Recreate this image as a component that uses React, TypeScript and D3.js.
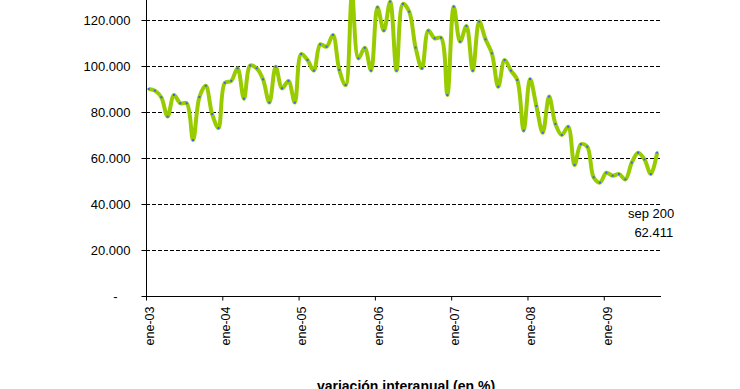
import React, { useEffect, useRef } from 'react';
import * as d3 from 'd3';

// monthly values, ene-03 .. sep-09
const values2003 = [90000, 89300, 86400, 78000, 87400, 83800, 83800, 67800, 86500, 91400, 79100, 73000];
const values2004 = [92700, 93500, 99000, 85800, 100200, 99000, 94200, 84100, 99700, 90300, 93500, 84100];
const values2005 = [105200, 102600, 98000, 109400, 108400, 113500, 98300, 91700, 131000, 103300, 107900, 98000];
const values2006 = [125500, 115400, 128000, 98000, 127000, 123600, 108000, 99000, 115400, 112000, 112300, 87400];
const values2007 = [125800, 110600, 117400, 98000, 119300, 111600, 105500, 91000, 102600, 98000, 93900, 71900];
const values2008 = [94300, 82600, 71000, 86700, 74800, 70000, 73600, 57000, 66000, 64900, 51600, 49300];
const values2009 = [53600, 52300, 53000, 50700, 58000, 62300, 59400, 53000, 62411];

const yearLabels = ['ene-03', 'ene-04', 'ene-05', 'ene-06', 'ene-07', 'ene-08', 'ene-09'];
const yTicks = [0, 20000, 40000, 60000, 80000, 100000, 120000];
const yMax = 140000;
const lastLabel = 'sep 200';
const title = 'variación interanual (en %)';

const W = 740;
const H = 389;
const FONT = 'Arial, "Liberation Sans", sans-serif';

export default function App() {
    const ref = useRef<SVGSVGElement>(null);

    useEffect(() => {
        const svg = d3.select(ref.current);
        svg.selectAll('*').remove();

        const series = [...values2003, ...values2004, ...values2005, ...values2006, ...values2007, ...values2008, ...values2009];
        const data = series.map((v, i) => ({ m: i + 0.4, v }));
        const months = yearLabels.length * 12 - 3; // ene-03 .. oct-09

        const x = d3.scaleLinear().domain([0, months]).range([146, 661]);
        const y = d3.scaleLinear().domain([0, yMax]).range([296, -26]);

        const locale = d3.formatLocale({ decimal: ',', thousands: '.', grouping: [3], currency: ['', ''] });
        const fmt = locale.format(',d');

        // grid
        svg.append('g')
            .selectAll('line')
            .data(yTicks.filter((t) => t > 0))
            .join('line')
            .attr('x1', x(0))
            .attr('x2', x(months))
            .attr('y1', (d) => Math.round(y(d)) + 0.5)
            .attr('y2', (d) => Math.round(y(d)) + 0.5)
            .attr('stroke', '#000')
            .attr('stroke-width', 1)
            .attr('stroke-dasharray', '4,2');

        // y axis
        const gy = svg.append('g')
            .attr('transform', `translate(${x(0) + 0.5},0)`)
            .call(d3.axisLeft(y).tickValues(yTicks).tickSize(5).tickPadding(11)
                .tickFormat((d) => (+d === 0 ? '-' : fmt(+d))));
        gy.selectAll('text').attr('font-family', FONT).attr('font-size', 13).attr('fill', '#000');
        // accounting style: the zero dash sits further left
        gy.selectAll<SVGTextElement, number>('text').filter((d) => d === 0).attr('dx', -13);
        gy.selectAll('line').attr('stroke', '#000');
        gy.select('.domain').attr('stroke', '#000').attr('d', `M0,${y(0)}V${y(yMax)}`);

        // x axis
        const gx = svg.append('g')
            .attr('transform', `translate(0,${Math.round(y(0)) + 0.5})`)
            .call(d3.axisBottom(x).tickValues(yearLabels.map((_, i) => i * 12)).tickSize(4)
                .tickFormat((_, i) => yearLabels[i]));
        gx.select('.domain').attr('stroke', '#000').attr('d', `M${x(0)},0H${x(months)}`);
        gx.selectAll('line').attr('stroke', '#000');
        gx.selectAll('text')
            .attr('font-family', FONT)
            .attr('font-size', 12.5)
            .attr('fill', '#000')
            .attr('transform', 'rotate(-90)')
            .attr('text-anchor', 'end')
            .attr('x', -10)
            .attr('y', 3)
            .attr('dy', '0.35em');

        // line
        const line = d3.line<{ m: number; v: number }>()
            .curve(d3.curveCatmullRom.alpha(0.5))
            .x((d) => x(d.m))
            .y((d) => y(d.v));

        svg.append('path')
            .datum(data)
            .attr('fill', 'none')
            .attr('stroke', '#99cc00')
            .attr('stroke-width', 4)
            .attr('stroke-linejoin', 'round')
            .attr('d', line);

        svg.append('g')
            .selectAll('rect')
            .data(data)
            .join('rect')
            .attr('x', (d) => x(d.m) - 1)
            .attr('y', (d) => y(d.v) - 1)
            .attr('width', 2)
            .attr('height', 2)
            .attr('fill', '#3366ff');

        // last value label
        const last = data[data.length - 1];
        const lbl = svg.append('g')
            .attr('font-family', FONT)
            .attr('font-size', 13)
            .attr('fill', '#000')
            .attr('text-anchor', 'end');
        lbl.append('text').attr('x', x(last.m) + 17).attr('y', 218).text(lastLabel);
        lbl.append('text').attr('x', x(last.m) + 16).attr('y', 237).text(fmt(last.v));

        // title, cut at the bottom edge as in the source
        svg.append('text')
            .attr('x', 406)
            .attr('y', 391)
            .attr('text-anchor', 'middle')
            .attr('font-family', FONT)
            .attr('font-size', 14)
            .attr('font-weight', 'bold')
            .text(title);
    }, []);

    return (
        <div style={{ position: 'absolute', left: 0, top: 0 }}>
            <svg ref={ref} width={W} height={H} style={{ display: 'block', background: '#fff' }} />
        </div>
    );
}
